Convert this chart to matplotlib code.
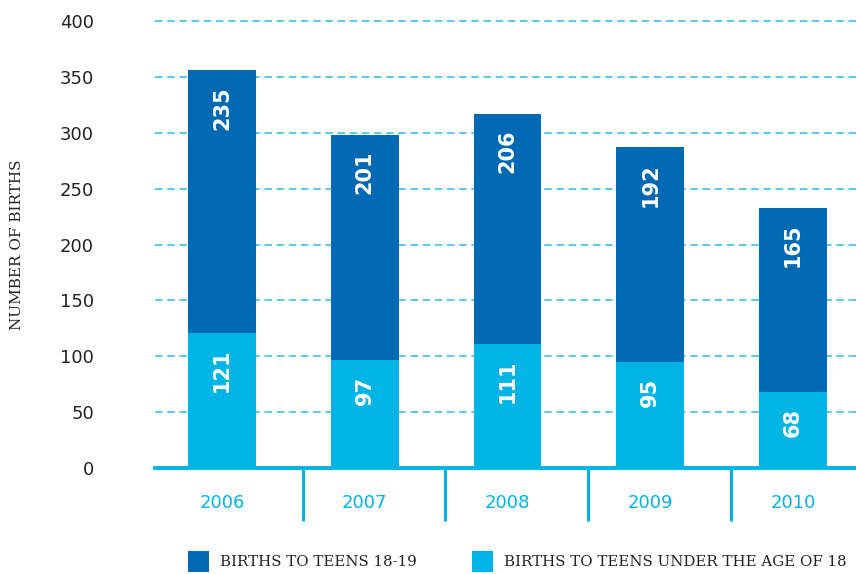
import matplotlib
matplotlib.use("Agg")
import matplotlib.pyplot as plt
from matplotlib.patches import Rectangle
import numpy as np

years = ["2006", "2007", "2008", "2009", "2010"]
under18 = [121, 97, 111, 95, 68]
teens_18_19 = [235, 201, 206, 192, 165]
series_names = ["BIRTHS TO TEENS 18-19", "BIRTHS TO TEENS UNDER THE AGE OF 18"]
yticks = [0, 50, 100, 150, 200, 250, 300, 350, 400]

DARK = "#0069B4"
LIGHT = "#00B4E6"
GRID = "#3FC0EA"
TXT = "#222222"

W, H = 856, 574
fig = plt.figure(figsize=(W / 100, H / 100), dpi=100)
ax = fig.add_axes([155 / W, 1 - 468 / H, 1 - 155 / W, (468 - 21) / H])

x = np.arange(len(years))
bw = 0.476
ax.bar(x, under18, width=bw, color=LIGHT, zorder=3)
ax.bar(x, teens_18_19, width=bw, bottom=under18, color=DARK, zorder=3)

for xi, a, b in zip(x, under18, teens_18_19):
    for val, top in ((a, a), (b, a + b)):
        ax.annotate(str(val), (xi, top), xytext=(0, -11.5), textcoords="offset points",
                    rotation=90, ha="center", va="top", color="white",
                    fontsize=15, fontweight="bold", family="DejaVu Sans", zorder=4)

ax.set_xlim(-0.469, 4.441)
ax.set_ylim(0, 400)
ax.set_yticks(yticks)
ax.set_yticklabels([str(t) for t in yticks], fontsize=13, color=TXT, family="DejaVu Sans")
ax.tick_params(axis="y", length=0, pad=44)
ax.yaxis.grid(True, linestyle=(0, (4.5, 2.8)), color=GRID, linewidth=1.2, zorder=0)
for t in ax.yaxis.get_gridlines():
    t.set_clip_on(False)

ax.set_xticks(x)
ax.set_xticklabels(years, fontsize=13, color=LIGHT, family="DejaVu Sans")
ax.set_xticks(x[:-1] + 0.565, minor=True)
ax.tick_params(axis="x", which="major", length=0, pad=19)
ax.tick_params(axis="x", which="minor", length=38, width=2.2, color=LIGHT, direction="out")

for s in ["top", "right", "left"]:
    ax.spines[s].set_visible(False)
ax.spines["bottom"].set_color(LIGHT)
ax.spines["bottom"].set_linewidth(2.8)
ax.spines["bottom"].set_zorder(5)

fig.text(17 / W, 1 - 245 / H, "NUMBER OF BIRTHS", rotation=90, ha="center", va="center",
         fontsize=11, family="DejaVu Serif", color=TXT)

# legend
legend_items = [(188, DARK, series_names[0]), (472, LIGHT, series_names[1])]
for lx, col, name in legend_items:
    fig.add_artist(Rectangle((lx / W, 1 - 572 / H), 21 / W, 21 / H, transform=fig.transFigure,
                             facecolor=col, edgecolor=col, linewidth=0))
    fig.text((lx + 32) / W, 1 - 562 / H, name, ha="left", va="center",
             fontsize=10.8, family="DejaVu Serif", color=TXT)

fig.savefig("out.png", dpi=100)
